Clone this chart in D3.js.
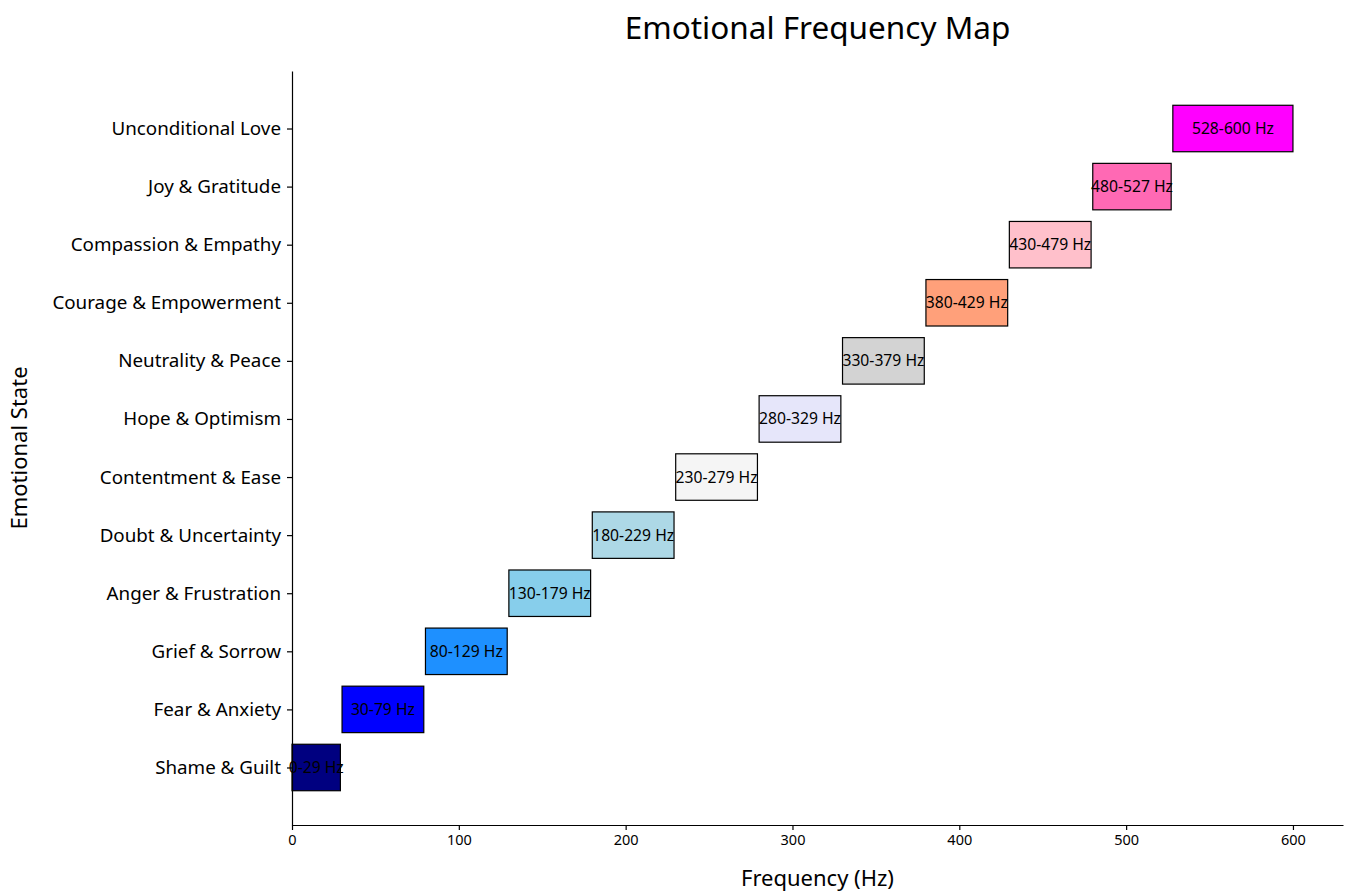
<!DOCTYPE html>
<html>
<head>
<meta charset="utf-8">
<script src="https://cdn.jsdelivr.net/npm/d3@7"></script>
<style>
  body { margin: 0; background: #fff; font-family: "Noto Sans", sans-serif; }
  .axis path, .axis line { stroke: #000; stroke-width: 1.2; }
  .axis text { fill: #000; font-family: "Noto Sans", sans-serif; }
</style>
</head>
<body>
<div></div>
<script>
var emotions = ["Shame & Guilt", "Fear & Anxiety", "Grief & Sorrow", "Anger & Frustration",
    "Doubt & Uncertainty", "Contentment & Ease", "Hope & Optimism", "Neutrality & Peace",
    "Courage & Empowerment", "Compassion & Empathy", "Joy & Gratitude", "Unconditional Love"];
var freqStart = [0, 30, 80, 130, 180, 230, 280, 330, 380, 430, 480, 528];
var freqEnd = [29, 79, 129, 179, 229, 279, 329, 379, 429, 479, 527, 600];
var colors = ["navy", "blue", "dodgerblue", "skyblue", "lightblue", "whitesmoke",
    "lavender", "lightgray", "lightsalmon", "pink", "hotpink", "magenta"];
var xTicks = [0, 100, 200, 300, 400, 500, 600];

var widthSvg = 1351,
    heightSvg = 891;

var margin = { top: 71, right: 8, bottom: 66, left: 292 },
    width = widthSvg - margin.left - margin.right,
    height = heightSvg - margin.top - margin.bottom;

var svg = d3.select("div").append("svg")
    .attr("width", widthSvg)
    .attr("height", heightSvg);

var g = svg.append("g")
    .attr("transform", "translate(" + margin.left + "," + margin.top + ")");

var data = emotions.map(function (e, i) {
    return { name: e, start: freqStart[i], end: freqEnd[i], color: colors[i], idx: i };
});

var xScale = d3.scaleLinear().domain([0, 630]).range([0, 1343 - margin.left]);

// matplotlib style: positions 0..11, bar height 0.8, 5% margins
var yScale = d3.scaleLinear().domain([-0.99, 11.99]).range([height, 0]);
var barH = yScale(0) - yScale(0.8);

g.selectAll("rect.bar")
    .data(data)
    .enter().append("rect")
    .attr("class", "bar")
    .attr("x", function (d) { return xScale(d.start); })
    .attr("y", function (d) { return yScale(d.idx + 0.4); })
    .attr("width", function (d) { return xScale(d.end) - xScale(d.start); })
    .attr("height", barH)
    .attr("fill", function (d) { return d.color; })
    .attr("stroke", "#000")
    .attr("stroke-width", 1.2);

g.selectAll("text.lbl")
    .data(data)
    .enter().append("text")
    .attr("class", "lbl")
    .attr("x", function (d) { return xScale((d.start + d.end) / 2); })
    .attr("y", function (d) { return yScale(d.idx); })
    .attr("dy", "0.35em")
    .attr("text-anchor", "middle")
    .attr("font-size", 15.7)
    .attr("fill", "#000")
    .text(function (d) { return d.start + "-" + d.end + " Hz"; });

var xAxis = g.append("g")
    .attr("class", "axis")
    .attr("transform", "translate(0," + height + ")")
    .call(d3.axisBottom(xScale).tickValues(xTicks).tickSize(5).tickPadding(5).tickSizeOuter(0));
xAxis.selectAll("text").attr("font-size", 14.5);

var yAxis = g.append("g")
    .attr("class", "axis")
    .call(d3.axisLeft(yScale)
        .tickValues(d3.range(emotions.length))
        .tickFormat(function (i) { return emotions[i]; })
        .tickSize(5).tickPadding(6).tickSizeOuter(0));
yAxis.selectAll("text").attr("font-size", 18.8);

svg.append("text")
    .attr("x", margin.left + xScale(315))
    .attr("y", 39)
    .attr("text-anchor", "middle")
    .attr("font-size", 31.5)
    .text("Emotional Frequency Map");

svg.append("text")
    .attr("x", margin.left + xScale(315))
    .attr("y", 886)
    .attr("text-anchor", "middle")
    .attr("font-size", 22)
    .text("Frequency (Hz)");

svg.append("text")
    .attr("transform", "translate(27," + (margin.top + height / 2) + ") rotate(-90)")
    .attr("text-anchor", "middle")
    .attr("font-size", 22)
    .text("Emotional State");
</script>
</body>
</html>
